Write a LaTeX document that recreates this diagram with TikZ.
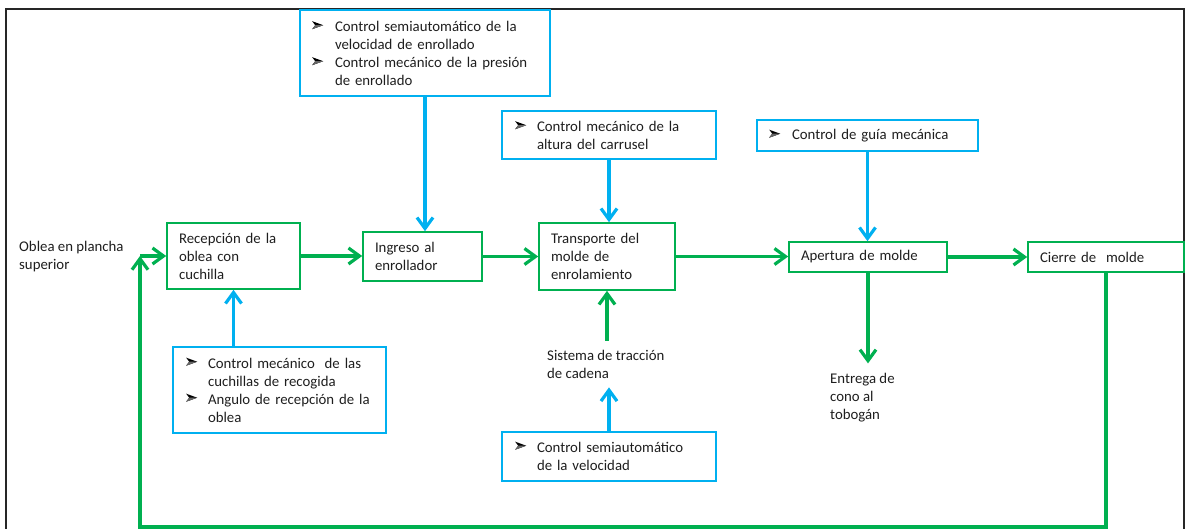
\documentclass[tikz,border=0pt]{standalone}
\usepackage{fontspec}
\setmainfont{Carlito}
\usetikzlibrary{arrows.meta}
\definecolor{flowgreen}{RGB}{0,176,80}
\definecolor{ctrlblue}{RGB}{0,176,240}
\definecolor{ink}{RGB}{30,30,30}
% room for the list marker, and the hanging indent of the control lists
\newcommand{\bul}{\hspace*{21pt}}
\newcommand{\ind}{\hspace*{21pt}}

\begin{document}
\begin{tikzpicture}[x=1pt,y=-1pt,
  every node/.style={font=\fontsize{14.8}{18}\selectfont, text=ink},
  stage/.style={draw=flowgreen, line width=1.6pt, inner xsep=12pt, inner ysep=0pt, align=left},
  ctrl/.style={draw=ctrlblue, line width=1.6pt, inner xsep=14pt, inner ysep=0pt, align=left},
  plain/.style={inner xsep=0pt, align=left, anchor=west},
  tip/.style={-{Straight Barb[length=11pt,width=16pt]}},
  flow/.style={draw=flowgreen, line width=3.2pt},
  feed/.style={draw=ctrlblue, line width=3.2pt},
  pics/listmark/.style={code={
    \fill[black] (0,0) -- (11,4) -- (0,8) -- (3,4) -- cycle;
    \fill[black!60] (3,4) -- (11,4) -- (0,8) -- cycle;}},
]
\useasboundingbox (0,0) rectangle (1188,529);

% outer frame
\draw[line width=1.8pt, black!85, line join=miter] (6,529) -- (6,9) -- (1184,9) -- (1184,529);

% control boxes
\node[ctrl, minimum width=250pt, minimum height=86pt, text width=222pt] (ctrlA) at (425,53)
  {\bul Control semiautomático de la\\ \ind velocidad de enrollado\\ \bul Control mecánico de la presión\\ \ind de enrollado};
\node[ctrl, minimum width=214pt, minimum height=48pt, text width=186pt] (ctrlB) at (609,135)
  {\bul Control mecánico de la\\ \ind altura del carrusel};
\node[ctrl, minimum width=221pt, minimum height=31pt, text width=193pt] (ctrlC) at (867.5,135.5)
  {\bul Control de guía mecánica};
\node[ctrl, minimum width=213pt, minimum height=86pt, text width=185pt] (ctrlD) at (279.5,390)
  {\bul Control mecánico\ \ de las\\ \ind cuchillas de recogida\\ \bul Angulo de recepción de la\\ \ind oblea};
\node[ctrl, minimum width=214pt, minimum height=49pt, text width=186pt] (ctrlE) at (609,456.5)
  {\bul Control semiautomático\\ \ind de la velocidad};

% list markers
\pic at ([xshift=13pt,yshift=-12pt]ctrlA.north west) {listmark};
\pic at ([xshift=13pt,yshift=-48pt]ctrlA.north west) {listmark};
\pic at ([xshift=14pt,yshift=-11pt]ctrlB.north west) {listmark};
\pic at ([xshift=13pt,yshift=-10.5pt]ctrlC.north west) {listmark};
\pic at ([xshift=14pt,yshift=-11.5pt]ctrlD.north west) {listmark};
\pic at ([xshift=14pt,yshift=-47.5pt]ctrlD.north west) {listmark};
\pic at ([xshift=14pt,yshift=-10.5pt]ctrlE.north west) {listmark};

% process stages
\node[stage, minimum width=133pt, minimum height=66pt, text width=109pt] (rec) at (233.5,256)
  {Recepción de la\\ oblea con\\ cuchilla};
\node[stage, minimum width=119pt, minimum height=49pt, text width=95pt] (ing) at (422.5,256.5)
  {Ingreso al\\ enrollador};
\node[stage, minimum width=136pt, minimum height=67pt, text width=112pt] (trans) at (607,256.5)
  {Transporte del\\ molde de\\ enrolamiento};
\node[stage, minimum width=158pt, minimum height=30pt, text width=134pt] (ap) at (868,257)
  {Apertura de molde};
\node[stage, minimum width=156pt, minimum height=30pt, text width=132pt] (cie) at (1106,257)
  {Cierre de\ \ molde};

% free labels
\node[plain, inner ysep=0pt] (oblea) at (19,257) {Oblea en plancha\\ superior};
\node[plain, inner ysep=9pt] (sist) at (547,364) {Sistema de tracción\\ de cadena};
\node[plain, inner ysep=10pt] (ent) at (830,398) {Entrega de\\ cono al\\ tobogán};

% main flow
\draw[flow, tip] (rec.east) -- (rec.east -| ing.west);
\draw[flow, tip] (ing.east) -- (ing.east -| trans.west);
\draw[flow, tip] (trans.east) -- (trans.east -| ap.west);
\draw[flow, tip] (ap.east) -- (ap.east -| cie.west);
\draw[flow, tip] (ap.south) -- (ap.south |- ent.north);
\draw[flow, tip] (trans.south |- sist.north) -- (trans.south);

% return loop
\coordinate (lb) at (140,527);
\draw[flow, tip, line join=miter] (cie.south) -- (cie.south |- lb) -- (lb) -- (lb |- rec.west);
\draw[flow, tip] (lb |- rec.west) -- (rec.west);

% control actions
\draw[feed, tip] (ctrlA.south) -- (ctrlA.south |- ing.north);
\draw[feed, tip] (ctrlB.south) -- (ctrlB.south |- trans.north);
\draw[feed, tip] (ctrlC.south) -- (ctrlC.south |- ap.north);
\draw[feed, tip] (rec.south |- ctrlD.north) -- (rec.south);
\draw[feed, tip] (ctrlE.north) -- (ctrlE.north |- sist.south);
\end{tikzpicture}
\end{document}
